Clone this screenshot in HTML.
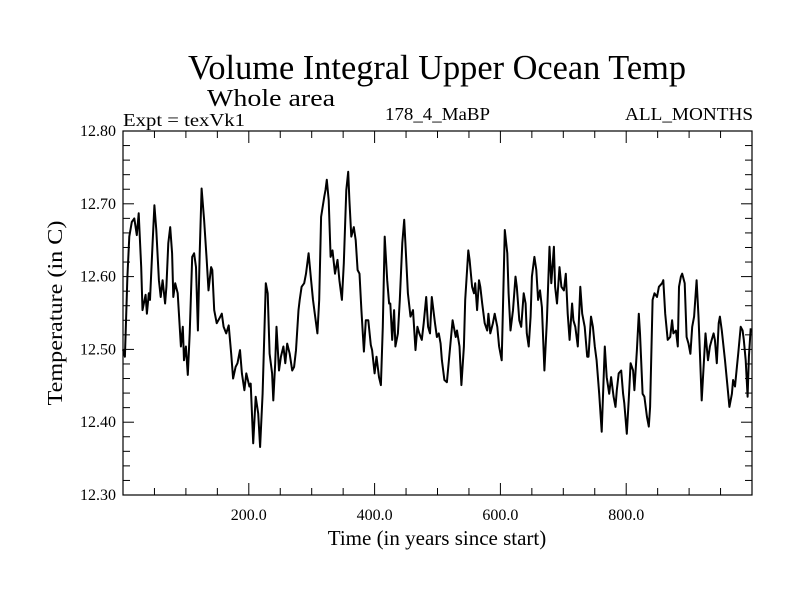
<!DOCTYPE html>
<html><head><meta charset="utf-8"><style>
body{margin:0;background:#fff}
svg text{font-family:"Liberation Serif",serif;fill:#000}
</style></head><body>
<svg id="chart" width="800" height="600">
<rect width="800" height="600" fill="#fff"/>
<text x="188" y="79" font-size="35" textLength="498" lengthAdjust="spacingAndGlyphs">Volume Integral Upper Ocean Temp</text>
<text x="207" y="106" font-size="24" textLength="128" lengthAdjust="spacingAndGlyphs">Whole area</text>
<text x="123" y="126" font-size="18" textLength="122" lengthAdjust="spacingAndGlyphs">Expt = texVk1</text>
<text x="385" y="120" font-size="18" textLength="105" lengthAdjust="spacingAndGlyphs">178_4_MaBP</text>
<text x="625" y="120" font-size="18" textLength="128" lengthAdjust="spacingAndGlyphs">ALL_MONTHS</text>
<text x="437" y="545" font-size="21" text-anchor="middle">Time (in years since start)</text>
<text transform="translate(62,313) rotate(-90)" font-size="21" text-anchor="middle" textLength="185" lengthAdjust="spacingAndGlyphs">Temperature (in C)</text>
<g id="axes"></g>
<path id="series" fill="none" stroke="#000" stroke-width="2" stroke-linejoin="round"/>
<rect x="123" y="131" width="629" height="364" fill="none" stroke="#000" stroke-width="1.2"/>
</svg>
<script>
const years=[0,3,7,10,14,18,22,25,29,31,36,38,41,43,47,50,53,57,60,63,67,69,72,75,78,80,83,87,92,95,97,100,103,106,110,113,116,119,122,125,129,133,136,140,142,145,149,153,157,160,164,168,172,175,179,182,186,189,193,196,201,203,207,211,215,218,222,227,230,233,237,239,242,244,248,251,255,258,261,265,269,272,275,279,281,284,288,291,295,299,302,305,309,312,315,320,322,324,327,
330,333,337,341,344,348,351,355,358,360,363,367,370,373,376,379,383,386,390,394,396,400,403,407,410,413,416,420,423,425,428,431,433,437,440,444,447,449,453,457,461,465,468,471,475,478,482,485,488,491,496,499,502,505,507,511,515,519,524,529,531,535,538,542,544,549,551,555,558,560,563,566,568,571,575,579,581,584,588,591,595,598,602,604,607,611,613,616,620,624,626,630,633,637,640,642,645,648,650,654,657,660,663,666,670,
674,678,681,685,687,690,694,697,701,704,707,710,714,716,719,723,727,730,734,738,740,744,747,750,753,757,761,766,769,773,776,780,783,785,788,792,795,797,801,804,807,811,813,817,820,822,826,829,833,836,838,842,845,849,852,857,859,862,866,870,873,875,879,882,884,887,889,893,896,899,902,905,908,912,915,917,920,923,926,930,933,936,939,941,944,947,949,952,957,961,964,968,970,973,976,978,982,985,987,990,993,995,998];
const temps=[12.50,12.490,12.600,12.655,12.675,12.680,12.657,12.687,12.613,12.554,12.575,12.549,12.577,12.568,12.646,12.698,12.664,12.595,12.572,12.595,12.563,12.586,12.646,12.668,12.632,12.572,12.591,12.577,12.504,12.531,12.485,12.504,12.465,12.522,12.627,12.632,12.613,12.526,12.632,12.721,12.678,12.623,12.581,12.613,12.609,12.554,12.536,12.542,12.549,12.531,12.522,12.533,12.494,12.460,12.476,12.481,12.499,12.467,12.444,12.467,12.449,12.453,12.371,12.435,12.412,12.366,12.439,12.591,12.577,12.494,12.467,12.430,12.481,12.531,12.471,12.490,12.504,12.481,12.508,12.494,12.471,12.476,12.499,12.554,12.568,12.586,12.591,12.604,12.632,12.595,12.568,12.549,12.522,12.568,12.682,12.710,12.719,12.733,12.705,
12.627,12.636,12.604,12.623,12.595,12.568,12.618,12.719,12.744,12.705,12.655,12.668,12.650,12.609,12.604,12.554,12.497,12.540,12.540,12.506,12.499,12.467,12.490,12.462,12.451,12.531,12.655,12.595,12.563,12.563,12.513,12.554,12.504,12.522,12.568,12.646,12.678,12.646,12.577,12.545,12.554,12.499,12.531,12.522,12.513,12.536,12.572,12.531,12.522,12.572,12.536,12.517,12.522,12.508,12.485,12.458,12.455,12.494,12.540,12.517,12.526,12.504,12.451,12.504,12.568,12.636,12.623,12.586,12.577,12.591,12.554,12.595,12.586,12.563,12.536,12.526,12.549,12.522,12.536,12.549,12.531,12.504,12.485,12.554,12.664,12.632,12.577,12.526,12.554,12.600,12.586,12.540,12.531,12.577,12.563,12.522,12.504,12.545,12.600,12.627,12.609,12.568,12.581,12.558,12.471,
12.540,12.641,12.591,12.641,12.586,12.563,12.613,12.586,12.581,12.604,12.549,12.513,12.563,12.540,12.531,12.504,12.586,12.549,12.531,12.490,12.490,12.545,12.531,12.504,12.485,12.439,12.387,12.504,12.462,12.439,12.462,12.435,12.421,12.444,12.467,12.471,12.439,12.426,12.384,12.430,12.481,12.471,12.444,12.499,12.549,12.522,12.439,12.435,12.407,12.394,12.421,12.568,12.577,12.572,12.586,12.591,12.595,12.549,12.513,12.517,12.540,12.522,12.526,12.504,12.586,12.600,12.604,12.591,12.517,12.508,12.494,12.531,12.545,12.595,12.545,12.499,12.430,12.476,12.522,12.485,12.504,12.513,12.522,12.513,12.481,12.536,12.545,12.526,12.485,12.449,12.421,12.439,12.458,12.449,12.476,12.494,12.531,12.526,12.513,12.485,12.435,12.490,12.529];
const yTicks=[12.30,12.40,12.50,12.60,12.70,12.80];
const xTicks=[200,400,600,800];
const X0=123,X1=752,Y0=495,Y1=131,xMin=0,xMax=1000,yMin=12.30,yMax=12.80;
const sx=v=>X0+(v-xMin)/(xMax-xMin)*(X1-X0);
const sy=v=>Y0-(v-yMin)/(yMax-yMin)*(Y0-Y1);
const NS='http://www.w3.org/2000/svg';
const ax=document.getElementById('axes');
function line(x1,y1,x2,y2,name){const l=document.createElementNS(NS,'line');
l.setAttribute('x1',x1);l.setAttribute('y1',y1);l.setAttribute('x2',x2);l.setAttribute('y2',y2);
l.setAttribute('stroke','#000');l.setAttribute('stroke-width','1');


ax.appendChild(l);}
function txt(x,y,s,anchor,name){const t=document.createElementNS(NS,'text');
t.setAttribute('x',x);t.setAttribute('y',y);t.setAttribute('font-size','16');t.setAttribute('text-anchor',anchor);t.textContent=s;


ax.appendChild(t);}
for(let v=12.30;v<=12.801;v+=0.02){const y=sy(v);const maj=Math.abs(Math.round(v*10)/10-v)<0.001;const L=maj?11:7;
line(X0,y,X0+L,y,'y-tick');line(X1-L,y,X1,y,'y-tick-right');}
yTicks.forEach(v=>txt(X0-7,sy(v)+5,v.toFixed(2),'end','y-tick-label'));
for(let v=50;v<1000;v+=50){const x=sx(v);const L=(v%200===0)?12:7;
line(x,Y0,x,Y0-L,'x-tick');line(x,Y1,x,Y1+L,'x-tick-top');}
xTicks.forEach(v=>txt(sx(v),Y0+25,v.toFixed(1),'middle','x-tick-label'));
document.getElementById('series').setAttribute('d',years.map((v,i)=>(i?'L':'M')+sx(v).toFixed(1)+','+sy(temps[i]).toFixed(1)).join(''));
</script>
</body></html>
